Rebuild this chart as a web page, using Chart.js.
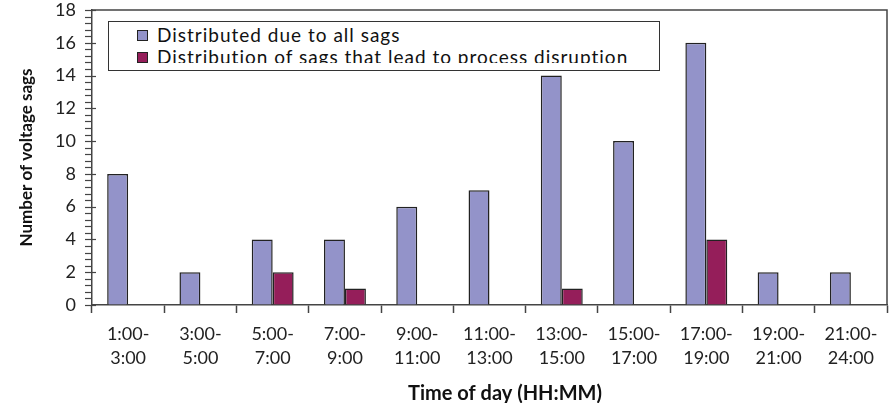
<!DOCTYPE html>
<html>
<head>
<meta charset="utf-8">
<script src="https://cdn.jsdelivr.net/npm/chart.js@4.4.1/dist/chart.umd.min.js"></script>
<style>
  html, body { margin: 0; padding: 0; background: #fff; }
  #wrap { position: relative; width: 893px; height: 403px; }
  #legend {
    position: absolute; left: 108px; top: 21px; width: 552px; height: 50px;
    border: 1.5px solid #333; background: #fff; box-sizing: border-box;
  }
  #legend .inner {
    position: absolute; left: 28px; top: 2px; right: 0; height: 39px; overflow: hidden;
    font-family: Lato, "Open Sans", sans-serif; font-size: 19px; letter-spacing: 1px;
    color: #111; line-height: 22px; white-space: nowrap;
  }
  #legend span.box {
    display: inline-block; width: 9px; height: 9px; border: 1px solid #222;
    margin-right: 9px; vertical-align: 1px;
  }
</style>
</head>
<body>
<div id="wrap">
  <canvas id="sagChart" width="893" height="403"></canvas>
  <div id="legend">
    <div class="inner">
      <div><span class="box" style="background:#9393C9"></span>Distributed due to all sags</div>
      <div><span class="box" style="background:#951E5A"></span>Distribution of sags that lead to process disruption</div>
    </div>
  </div>
</div>
<script>
// time slots (two-line tick labels)
const slots = [
  ['1:00-', '3:00'], ['3:00-', '5:00'], ['5:00-', '7:00'], ['7:00-', '9:00'],
  ['9:00-', '11:00'], ['11:00-', '13:00'], ['13:00-', '15:00'], ['15:00-', '17:00'],
  ['17:00-', '19:00'], ['19:00-', '21:00'], ['21:00-', '24:00']
];

// counts
const allSags = [8, 2, 4, 4, 6, 7, 14, 10, 16, 2, 2];
const disruptSags = [0, 0, 2, 1, 0, 0, 1, 0, 4, 0, 0];

const axisColor = '#444';
const fontFam = 'Lato, "Open Sans", sans-serif';

// frame on top/right, y minor ticks, x title
const framePlugin = {
  id: 'frame',
  afterDraw(chart) {
    const c = chart.ctx, a = chart.chartArea, y = chart.scales.y;
    c.save();
    c.strokeStyle = axisColor;
    c.lineWidth = 1.5;
    c.beginPath();
    c.moveTo(a.left, a.top);
    c.lineTo(a.right, a.top);
    c.lineTo(a.right, a.bottom);
    c.stroke();
    c.lineWidth = 1.2;
    for (let k = 0; k <= 45; k++) {
      const v = k * 0.4;
      const py = Math.round(y.getPixelForValue(v)) + 0.5;
      const major = Math.abs(v - Math.round(v)) < 1e-6 && Math.round(v) % 2 === 0;
      c.beginPath();
      c.moveTo(a.left - 7, py);
      c.lineTo(a.left + (major ? 4 : 0), py);
      c.stroke();
    }
    c.fillStyle = '#111';
    c.font = 'bold 20px ' + fontFam;
    c.textAlign = 'center';
    c.textBaseline = 'middle';
    c.fillText('Time of day (HH:MM)', 505, 394);
    c.restore();
  }
};

new Chart(document.getElementById('sagChart'), {
  type: 'bar',
  data: {
    labels: slots,
    datasets: [
      {
        label: 'Distributed due to all sags',
        data: allSags,
        backgroundColor: '#9393C9',
        borderColor: '#222',
        borderWidth: 1.5,
        borderSkipped: 'bottom'
      },
      {
        label: 'Distribution of sags that lead to process disruption',
        data: disruptSags,
        backgroundColor: '#951E5A',
        borderColor: '#222',
        borderWidth: 1.5,
        borderSkipped: 'bottom'
      }
    ]
  },
  options: {
    responsive: false,
    animation: false,
    layout: { padding: { top: 10, right: 6, left: 0, bottom: 0 } },
    datasets: {
      bar: { categoryPercentage: 0.58, barPercentage: 1.0 }
    },
    plugins: {
      legend: { display: false },
      tooltip: { enabled: false }
    },
    scales: {
      x: {
        offset: true,
        grid: {
          offset: true,
          drawOnChartArea: false,
          tickLength: 8,
          tickColor: axisColor,
          tickWidth: 1.5
        },
        border: { color: axisColor, width: 1.5 },
        ticks: {
          color: '#222',
          font: { family: fontFam, size: 18, lineHeight: 1.33 },
          padding: 9,
          maxRotation: 0,
          autoSkip: false
        },
        afterFit(scale) { scale.height = 98; }
      },
      y: {
        min: 0,
        max: 18,
        grid: { drawOnChartArea: false, drawTicks: false },
        border: { color: axisColor, width: 1.5 },
        ticks: {
          stepSize: 2,
          color: '#222',
          padding: 16,
          font: { family: fontFam, size: 18 }
        },
        title: {
          display: true,
          text: 'Number of voltage sags',
          color: '#111',
          font: { family: fontFam, size: 17, weight: 'bold' },
          padding: { top: 16, bottom: 0 }
        },
        afterFit(scale) {
          scale.width = 92;
          scale.paddingTop = 0;
          scale.paddingBottom = 0;
        }
      }
    }
  },
  plugins: [framePlugin]
});
</script>
</body>
</html>
